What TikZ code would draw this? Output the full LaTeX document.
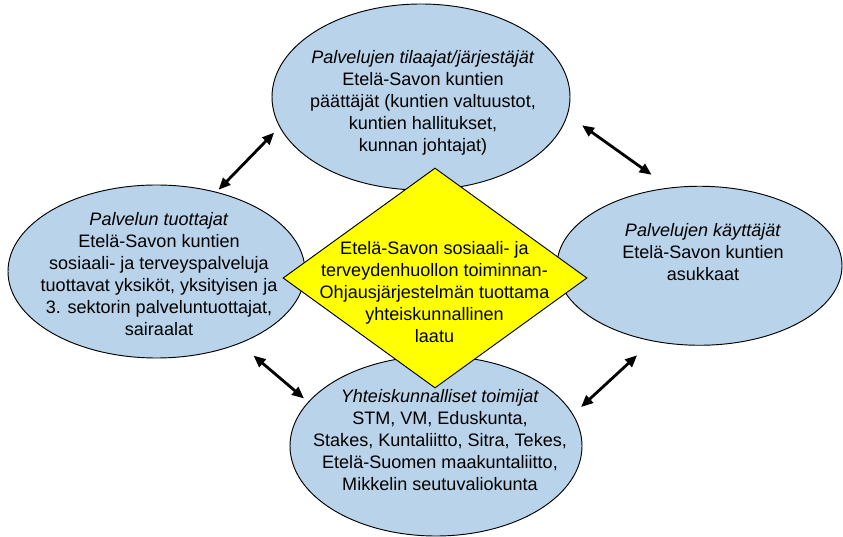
\documentclass[tikz,border=0pt]{standalone}
\usepackage{fontspec}
\setmainfont{Liberation Sans}
\usepackage{tikz}
\usetikzlibrary{arrows.meta,shapes.geometric}

\definecolor{bubbleblue}{RGB}{185,211,234}
\definecolor{diamondyellow}{RGB}{255,255,0}

\begin{document}
\begin{tikzpicture}[<->,>={Triangle[length=3.6mm,width=3mm]},line width=2.4pt,
  bubble node/.style={ellipse,draw,line width=0.8pt,fill=bubbleblue,inner sep=0pt},
  quality node/.style={diamond,draw,line width=0.8pt,fill=diamondyellow,inner sep=0pt,
    minimum width=9.12cm,minimum height=6.6cm},
  label node/.style={align=center,inner sep=0pt,font=\fontsize{15.4pt}{18.8pt}\selectfont}]
  \useasboundingbox (0,0) rectangle (25.29,16.11);

  \node[bubble node,minimum width=8.94cm,minimum height=5.58cm] (tilaajat) at (12.63,13.2) {};
  \node[bubble node,minimum width=8.91cm,minimum height=5.19cm] (tuottajat) at (4.695,7.965) {};
  \node[bubble node,minimum width=8.55cm,minimum height=4.77cm] (kayttajat) at (20.985,8.137) {};
  \node[bubble node,minimum width=8.76cm,minimum height=5.4cm] (toimijat) at (13.08,2.73) {};

  \path
    (tuottajat.53) edge[shorten <=0.09cm,shorten >=0.23cm] (tilaajat.192)
    (tilaajat.353) edge[shorten <=0.53cm,shorten >=0.66cm] (kayttajat.111)
    (tuottajat.319) edge[shorten <=0.55cm,shorten >=0.16cm] (toimijat.161)
    (kayttajat.238) edge[shorten <=0.62cm,shorten >=0.32cm] (toimijat.13);

  \node[quality node] (laatu) at (13.05,7.77) {};

  % texts
  \node[label node] (tilaajat text) at (12.69,13.02)
    {\textit{Palvelujen tilaajat/järjestäjät}\\Etelä-Savon kuntien\\päättäjät (kuntien valtuustot,\\kuntien hallitukset,\\kunnan johtajat)};
  \node[label node] (tuottajat text) at (4.77,7.89)
    {\textit{Palvelun tuottajat}\\Etelä-Savon kuntien\\sosiaali- ja terveyspalveluja\\tuottavat yksiköt, yksityisen ja\\3. sektorin palveluntuottajat,\\sairaalat};
  \node[label node] (kayttajat text) at (21.09,8.55)
    {\textit{Palvelujen käyttäjät}\\Etelä-Savon kuntien\\asukkaat};
  \node[label node] (toimijat text) at (13.2,2.91)
    {\textit{Yhteiskunnalliset toimijat}\\STM, VM, Eduskunta,\\Stakes, Kuntaliitto, Sitra, Tekes,\\Etelä-Suomen maakuntaliitto,\\Mikkelin seutuvaliokunta};
  \node[label node] (laatu text) at (13.035,7.35)
    {Etelä-Savon sosiaali- ja\\terveydenhuollon toiminnan-\\Ohjausjärjestelmän tuottama\\yhteiskunnallinen\\laatu};
\end{tikzpicture}
\end{document}
